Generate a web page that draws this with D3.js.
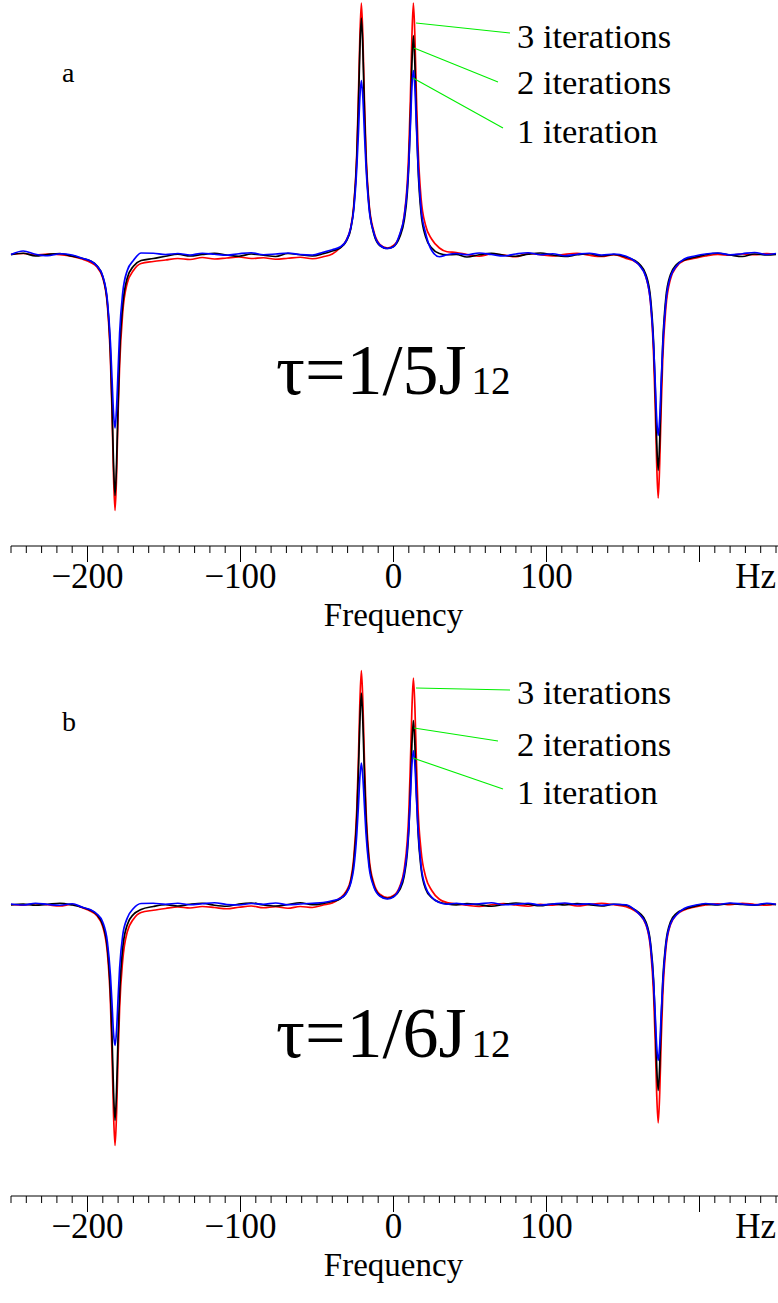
<!DOCTYPE html>
<html>
<head>
<meta charset="utf-8">
<script src="https://cdn.jsdelivr.net/npm/d3@7"></script>
<style>
  body { margin: 0; background: #fff; }
  svg { display: block; }
  svg text { font-family: "Liberation Serif", "DejaVu Serif", serif; }
</style>
</head>
<body>
<svg id="chart" width="778" height="1303"></svg>
<script>
// Frequency grid (Hz) shared by every trace; denser around the four lines.
const freqHz = [
  -250,-242,-234,-226,-218,-210,-203,-198,
  -194,-190,-187,-185,-184,-183,-182,-181,-180,-179,-177,-174,-170,
  -165,-157,-149,-141,-133,-125,-117,-109,-101,-93,-85,-77,-69,-61,-53,-46,-40,
  -35,-31,-28,-26,-24,-23,-22,-21,-20,-19,-18,-16,-13,-9,-4,0,4,7,9,10,11,12,13,14,15,16,18,21,25,30,35,
  41,48,56,64,72,80,88,96,104,112,120,128,136,144,152,158,
  161,165,168,170,171,172,173,174,175,176,178,181,185,
  190,197,204,212,220,228,236,244,250
];

// Panel a: tau = 1/5J12 (intensity, arbitrary units)
const redA = [
  0.5,0.8,0.2,0.6,0.3,-0.4,-1.5,-2.8,
  -4.5,-9,-20,-42,-62,-88,-102,-88,-63,-44,-23,-11,-6,
  -3.2,-2.4,-1.8,-1.2,-1.6,-0.8,-1.4,-1.0,-0.6,-1.2,-0.9,-1.5,-1.1,-0.7,-1.3,-0.5,0.6,
  3,6,11,20,41,62,87,101,87,62,42,21,10,4.5,3,4,8,16,29,42,62,87,101,87,63,44,23,12,6.5,3,1.5,
  1.2,0.4,-0.3,0.6,0.2,-0.5,0.8,0.3,-0.2,0.5,0.9,0.1,-0.4,0.3,-1.2,-2.5,
  -4,-8.6,-19,-40,-59,-83,-97,-83,-60,-41,-21,-9.5,-4.5,
  -2,-1.1,-0.2,0.4,0.1,0.6,0.3,0.8,0.5
];
const blackA = [
  0.3,0.9,-0.2,0.4,0.8,-0.3,-1.2,-2.2,
  -4,-8.5,-19,-39,-59,-83,-96,-83,-59,-39,-20,-9,-4.3,
  -2,-1.2,-0.3,0.5,-0.2,0.4,0.9,0.2,-0.3,0.6,0.1,-0.4,0.8,0.3,-0.2,0.7,1.8,
  3,5.6,10.5,19,39,58,82,95,82,58,39,20,9,4,2.8,3.6,7.3,14,25,36,54,76,88,76,54,36,17,7.5,3,0.8,0.3,
  0.4,-0.6,0.3,0.9,0.1,-0.3,0.5,1.0,0.2,-0.4,0.3,0.7,-0.2,0.4,-0.6,-2.1,
  -3.6,-7.7,-17,-35,-52,-74,-86,-74,-52,-35,-17,-7.7,-3.6,
  -1.8,-0.7,0.3,0.9,0.2,-0.4,0.6,0.2,0.4
];
const blueA = [
  0.4,1.8,0.5,-0.1,0.7,0.2,-1.2,-2.2,
  -4.1,-8.3,-18,-35,-49,-63,-69,-61,-46,-31,-15,-6,-2,
  1.0,0.9,0.4,0.8,0.2,0.9,0.5,0.1,0.7,1.1,0.3,0.6,1.0,0.4,0.2,1.3,2.3,
  3.4,5.8,10.9,18.2,35,48,63,70,63,49,36,19,9.4,4.2,2.8,3.5,8.4,15.6,27,37,51,67,74,67,51,37,19,8.9,2.0,-0.5,0.3,
  0.8,0.3,1.0,0.4,-0.2,0.6,1.1,0.3,0.7,-0.1,0.5,0.9,0.2,0.6,-0.3,-2.4,
  -4.2,-8.6,-18.7,-36,-50,-65,-72,-65,-50,-36,-18.7,-8.6,-4.2,
  -1.4,-0.2,0.6,1.0,0.3,0.7,1.2,0.4,0.8
];

// Panel b: tau = 1/6J12
const redB = [
  0.4,0.1,0.7,0.3,-0.2,0.5,-1.0,-2.3,
  -4,-8.5,-19,-39,-59,-83,-96,-83,-60,-41,-22,-10.5,-5.5,
  -2.8,-1.9,-1.2,-0.6,-1.0,-0.4,-0.8,-1.3,-0.7,-0.2,-0.9,-0.5,-1.1,-0.4,-0.8,0.2,1.0,
  3,5.6,10.3,19,38.5,57,81,94,81,58,39,19.5,9.2,4.5,3.2,4,7.5,14.5,26,37,56,78,91,79,57,39,22,11.5,6,2.5,1.2,
  0.6,0.1,-0.4,0.3,0.8,0.2,-0.3,0.5,0.1,0.7,-0.2,0.4,0.9,0.3,-0.5,-2.2,
  -3.7,-7.7,-17.4,-35.7,-53,-75,-87,-75,-53,-36,-17.4,-7.7,-3.7,
  -1.8,-0.6,0.2,0.7,0.3,0.9,0.4,0.1,0.6
];
const blackB = [
  0.2,0.6,0.1,0.5,0.9,0.2,-0.8,-1.9,
  -3.6,-7.7,-17,-35,-52,-74,-86,-74,-52,-35,-17,-7.7,-3.6,
  -1.6,-0.4,0.3,-0.2,0.5,0.9,0.1,-0.3,0.6,1.0,0.2,-0.2,0.4,1.1,0.3,0.8,1.6,
  2.6,5,9.4,17,35,52,73,85,73,52,35,17.5,8.2,4.0,2.8,3.6,6.2,11.8,21,30,45,64,74,64,45,30,15,6.6,3.1,1.3,0.6,
  0.2,0.8,0.3,-0.3,0.4,1.0,0.5,-0.1,0.6,0.2,0.8,0.3,-0.2,0.5,0.1,-1.8,
  -3.1,-6.6,-15,-30,-45,-64,-74,-64,-45,-30,-15,-6.6,-3.1,
  -1.5,-0.3,0.5,0.2,0.8,0.4,0.1,0.7,0.3
];
const blueB = [
  0.6,0.2,0.9,0.4,0.1,0.7,-0.8,-1.7,
  -3.3,-6.7,-14.6,-28,-39,-51,-56,-50,-37,-25,-12,-5,-1.2,
  0.8,0.9,0.5,0.9,0.3,0.7,1.1,0.4,0.2,0.8,0.5,1.0,0.3,0.6,0.9,1.2,1.9,
  2.8,4.7,8.8,14.8,28.5,39,51,57,51,40,29,15.5,7.7,3.8,2.6,3.4,7,13,22.5,31,43,56,62,56,43,31,16,7.4,3.3,1.2,0.5,
  0.9,0.4,0.7,1.1,0.3,0.5,0.9,0.2,0.6,1.0,0.4,0.7,0.1,0.5,0.3,-1.9,
  -3.7,-7.4,-16,-31,-43,-56,-62,-56,-43,-31,-16,-7.4,-3.7,
  -1.2,0.1,0.8,0.4,1.0,0.6,0.2,0.9,0.5
];

// Legend texts and where each leader starts on its trace (Hz, intensity)
const iterLabels = ["3 iterations", "2 iterations", "1 iteration"];
const leaderHz = [14.7, 13.4, 12.7];
const leaderValA = [93, 83, 71];
const leaderValB = [87, 71, 59];

const tickLabelValues = [-200, -100, 0, 100];
const panelLetters = ["a", "b"];
const tauDenoms = ["1/5J", "1/6J"];

const FONT = '"Liberation Serif", "DejaVu Serif", serif';
const svg = d3.select("#chart");
const W = 778;

const x = d3.scaleLinear().domain([-250, 250]).range([11, 776]);

const panels = [
  { letter: panelLetters[0], tau: tauDenoms[0], series: [redA, blackA, blueA], leadVals: leaderValA,
    top: 0, labelY: [48, 94, 143], leaderEnd: [[510, 33], [498, 82], [503, 128]], tauY: 394, letterY: 82 },
  { letter: panelLetters[1], tau: tauDenoms[1], series: [redB, blackB, blueB], leadVals: leaderValB,
    top: 650, labelY: [704, 756, 804], leaderEnd: [[510, 690], [498, 741], [503, 789]], tauY: 1057, letterY: 731 }
];
const colors = ["#ff0000", "#000000", "#0000ff"];

function label(sel) {
  return sel.append("text").style("font-family", FONT).attr("fill", "#000");
}

panels.forEach(p => {
  const g = svg.append("g");
  const y = d3.scaleLinear().domain([-100, 100]).range([p.top + 505.5, p.top + 5.5]);

  const line = d3.line()
    .x((d, i) => x(freqHz[i]))
    .y(d => y(d))
    .curve(d3.curveMonotoneX);

  p.series.forEach((s, k) => {
    g.append("path")
      .datum(s)
      .attr("d", line)
      .attr("fill", "none")
      .attr("stroke", colors[k])
      .attr("stroke-width", 1.7)
      .attr("stroke-linejoin", "round");
  });

  // leader lines to the iteration labels
  iterLabels.forEach((t, k) => {
    g.append("line")
      .attr("x1", x(leaderHz[k])).attr("y1", y(p.leadVals[k]))
      .attr("x2", p.leaderEnd[k][0]).attr("y2", p.leaderEnd[k][1])
      .attr("stroke", "#00ee00").attr("stroke-width", 1.1);
    label(g).attr("x", 517).attr("y", p.labelY[k]).attr("font-size", 34.5).text(t);
  });

  // panel letter
  label(g).attr("x", 62).attr("y", p.letterY).attr("font-size", 28).text(p.letter);

  // tau annotation
  const tau = label(g).attr("x", 276).attr("y", p.tauY).attr("font-size", 72);
  tau.append("tspan").text("\u03C4=");
  tau.append("tspan").attr("dx", 1).text(p.tau);
  tau.append("tspan").attr("dx", 5).attr("font-size", 39).text("12");

  // frequency axis
  const axisY = p.top + 546;
  const ax = g.append("g").attr("transform", `translate(0,${axisY})`);
  ax.append("line").attr("x1", 11).attr("x2", W).attr("stroke", "#000").attr("stroke-width", 1);
  const minor = d3.range(-250, 251, 10);
  ax.selectAll("line.tk").data(minor).join("line")
    .attr("class", "tk")
    .attr("x1", d => x(d)).attr("x2", d => x(d))
    .attr("y1", 0).attr("y2", d => (d % 100 === 0 ? 16 : 7))
    .attr("stroke", "#000").attr("stroke-width", 1);
  tickLabelValues.forEach(v => {
    label(ax).attr("x", x(v)).attr("y", 42).attr("text-anchor", "middle").attr("font-size", 35)
      .text(d3.format("d")(v).replace("-", "\u2212"));
  });
  label(ax).attr("x", 776).attr("y", 42).attr("text-anchor", "end").attr("font-size", 35).text("Hz");
  label(ax).attr("x", x(0)).attr("y", 80).attr("text-anchor", "middle").attr("font-size", 33).text("Frequency");
});
</script>
</body>
</html>
